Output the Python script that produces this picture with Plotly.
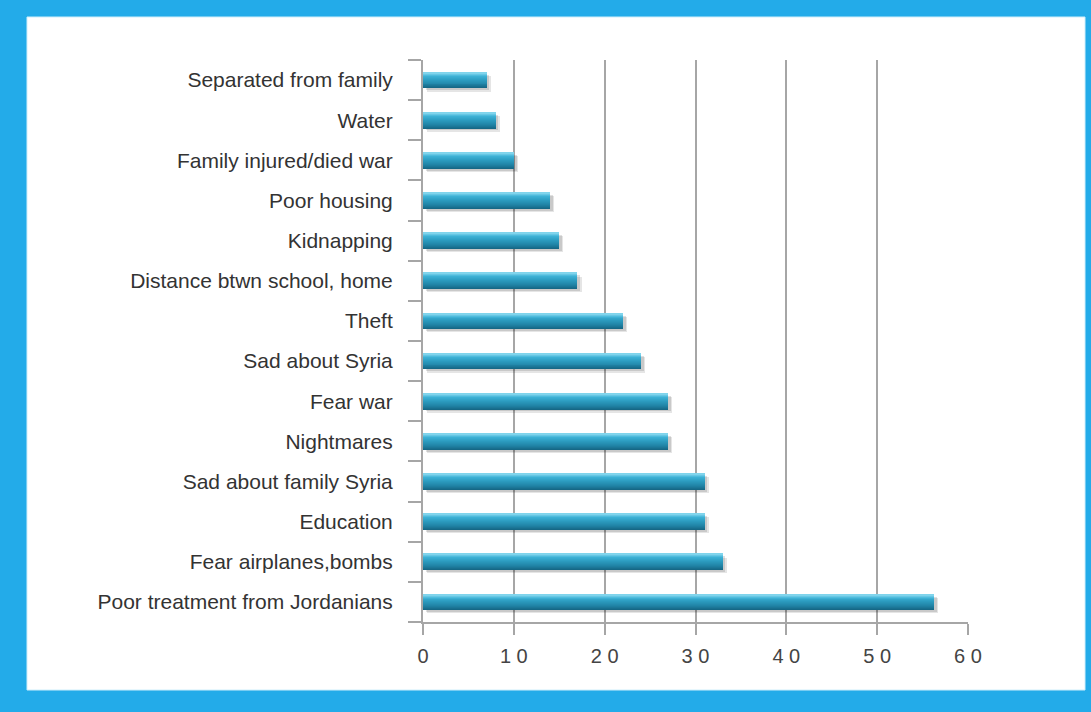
import plotly.graph_objects as go

categories = [
    "Separated from family",
    "Water",
    "Family injured/died war",
    "Poor housing",
    "Kidnapping",
    "Distance btwn school, home",
    "Theft",
    "Sad about Syria",
    "Fear war",
    "Nightmares",
    "Sad about family Syria",
    "Education",
    "Fear airplanes,bombs",
    "Poor treatment from Jordanians",
]
values = [7, 8, 10, 14, 15, 17, 22, 24, 27, 27, 31, 31, 33, 56.3]
tick_vals = [0, 10, 20, 30, 40, 50, 60]
tick_text = ["0", "1 0", "2 0", "3 0", "4 0", "5 0", "6 0"]

FONT = "Liberation Sans, Arial, sans-serif"
W, H = 1091, 712
ML, MR, MT, MB = 423, 123, 60, 90
PW, PH = W - ML - MR, H - MT - MB

fig = go.Figure()

bar_w = 0.39
# soft shadow (two layers)
for dx, dy, a in [(0.45, 0.09, 0.10), (0.3, 0.06, 0.12)]:
    fig.add_trace(go.Bar(
        y=categories, x=values, base=dx, orientation="h",
        width=bar_w, offset=-bar_w / 2 - dy,
        marker=dict(color=f"rgba(0,0,0,{a})", line=dict(width=0)),
        hoverinfo="skip", showlegend=False,
    ))

# gradient stops (position from bottom 0 -> top 1)
stops = [(0.0, (20, 100, 130)), (0.25, (32, 130, 164)), (0.55, (44, 156, 192)),
         (0.8, (62, 178, 214)), (1.0, (140, 218, 240))]

def color_at(t):
    for (p0, c0), (p1, c1) in zip(stops[:-1], stops[1:]):
        if p0 <= t <= p1:
            f = (t - p0) / (p1 - p0)
            return "rgb(%d,%d,%d)" % tuple(round(a + (b - a) * f) for a, b in zip(c0, c1))
    return "rgb(%d,%d,%d)" % stops[-1][1]

n = 16
sw = bar_w / n
for i in range(n):
    fig.add_trace(go.Bar(
        y=categories, x=values, orientation="h",
        width=sw * 1.05, offset=-bar_w / 2 + i * sw,
        marker=dict(color=color_at((i + 0.5) / n), line=dict(width=0)),
        hoverinfo="skip", showlegend=False,
    ))

def px_to_paper_x(p):
    return (p - ML) / PW

def px_to_paper_y(p):
    return (H - p - MB) / PH

fig.add_shape(
    type="rect", xref="paper", yref="paper", layer="below",
    x0=px_to_paper_x(27), x1=px_to_paper_x(1085),
    y0=px_to_paper_y(690), y1=px_to_paper_y(17),
    fillcolor="white", line=dict(color="#cfeefb", width=1),
)

fig.update_layout(
    width=W, height=H,
    margin=dict(l=ML, r=MR, t=MT, b=MB, pad=0),
    paper_bgcolor="#23abe9",
    plot_bgcolor="rgba(0,0,0,0)",
    barmode="overlay",
    bargap=0,
    font=dict(family=FONT, size=21, color="#333333"),
    xaxis=dict(
        range=[0, 60], tickvals=tick_vals, ticktext=tick_text,
        showgrid=True, gridcolor="#a6a6a6", gridwidth=2,
        zeroline=False, showline=True, linecolor="#a6a6a6", linewidth=2,
        ticks="outside", ticklen=11, tickwidth=2, tickcolor="#a6a6a6",
        ticklabelstandoff=4,
        tickfont=dict(family=FONT, size=20, color="#444444"),
        fixedrange=True,
    ),
    yaxis=dict(
        categoryorder="array", categoryarray=categories[::-1],
        showgrid=False, zeroline=False,
        showline=True, linecolor="#a6a6a6", linewidth=2,
        ticks="outside", tickson="boundaries", ticklen=13, tickwidth=2,
        tickcolor="#a6a6a6", ticklabelstandoff=24,
        tickfont=dict(family=FONT, size=21, color="#333333"),
        fixedrange=True,
    ),
    hovermode=False,
)

fig.write_html("out.html", config={"displayModeBar": False})
